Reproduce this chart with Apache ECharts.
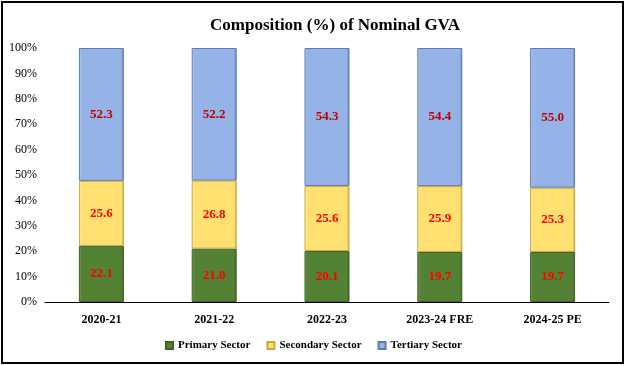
<!DOCTYPE html>
<html><head><meta charset="utf-8">
<script src="https://cdn.jsdelivr.net/npm/echarts@6/dist/echarts.min.js"></script>
<style>
html,body{margin:0;padding:0;background:#fff;}
#frame{position:absolute;left:1px;top:1px;width:619px;height:359px;border:2px solid #000;box-sizing:content-box;}
#c{position:absolute;left:0;top:0;width:625px;height:365px;}
</style></head>
<body>
<div id="frame"></div>
<div id="c"></div>
<script>
const categories = ['2020-21','2021-22','2022-23','2023-24 FRE','2024-25 PE'];
const primary = [22.1, 21.0, 20.1, 19.7, 19.7];
const secondary = [25.6, 26.8, 25.6, 25.9, 25.3];
const tertiary = [52.3, 52.2, 54.3, 54.4, 55.0];

const font = 'Liberation Serif';
function mk(name, data, color, light, border, labelColor){
  return {
    name, type:'bar', stack:'t', data, barWidth:45,
    itemStyle:{
      color:{type:'linear',x:0,y:0,x2:1,y2:0,colorStops:[
        {offset:0,color:light},{offset:0.06,color:color},{offset:0.94,color:color},{offset:1,color:border}]},
      borderColor:border, borderWidth:1},
    label:{show:true, position:'inside', formatter:p=>p.value.toFixed(1), color:labelColor,
      fontFamily:font, fontWeight:'bold', fontSize:13}
  };
}
const chart = echarts.init(document.getElementById('c'));
chart.setOption({
  animation:false,
  title:{text:'Composition (%) of Nominal GVA', left:205, top:12,
    textStyle:{fontFamily:font, fontSize:17, fontWeight:'bold', color:'#000'}},
  grid:{left:45, right:16, top:48, bottom:63},
  legend:{bottom:9, left:160, itemWidth:7, itemHeight:7, itemGap:16,
    icon:'rect',
    textStyle:{fontFamily:font, fontSize:11, fontWeight:'bold', color:'#000'},
    data:['Primary Sector','Secondary Sector','Tertiary Sector']},
  xAxis:{type:'category', data:categories,
    axisLine:{lineStyle:{color:'#000', width:1}}, axisTick:{show:false},
    axisLabel:{fontFamily:font, fontSize:12, fontWeight:'bold', color:'#000', margin:12}},
  yAxis:{type:'value', min:0, max:100, interval:10,
    axisLine:{show:false}, axisTick:{show:false}, splitLine:{show:false},
    axisLabel:{formatter:v=>v+'%', fontFamily:font, fontSize:12, color:'#000', margin:8}},
  series:[
    mk('Primary Sector', primary, '#548235', '#7aa35a', '#3d6127', '#ff0000'),
    mk('Secondary Sector', secondary, '#ffe070', '#fff0a8', '#c9a840', '#ff0000'),
    mk('Tertiary Sector', tertiary, '#95b3e6', '#bcd0f2', '#5f7cb0', '#c00000')
  ]
});
</script>
</body></html>
